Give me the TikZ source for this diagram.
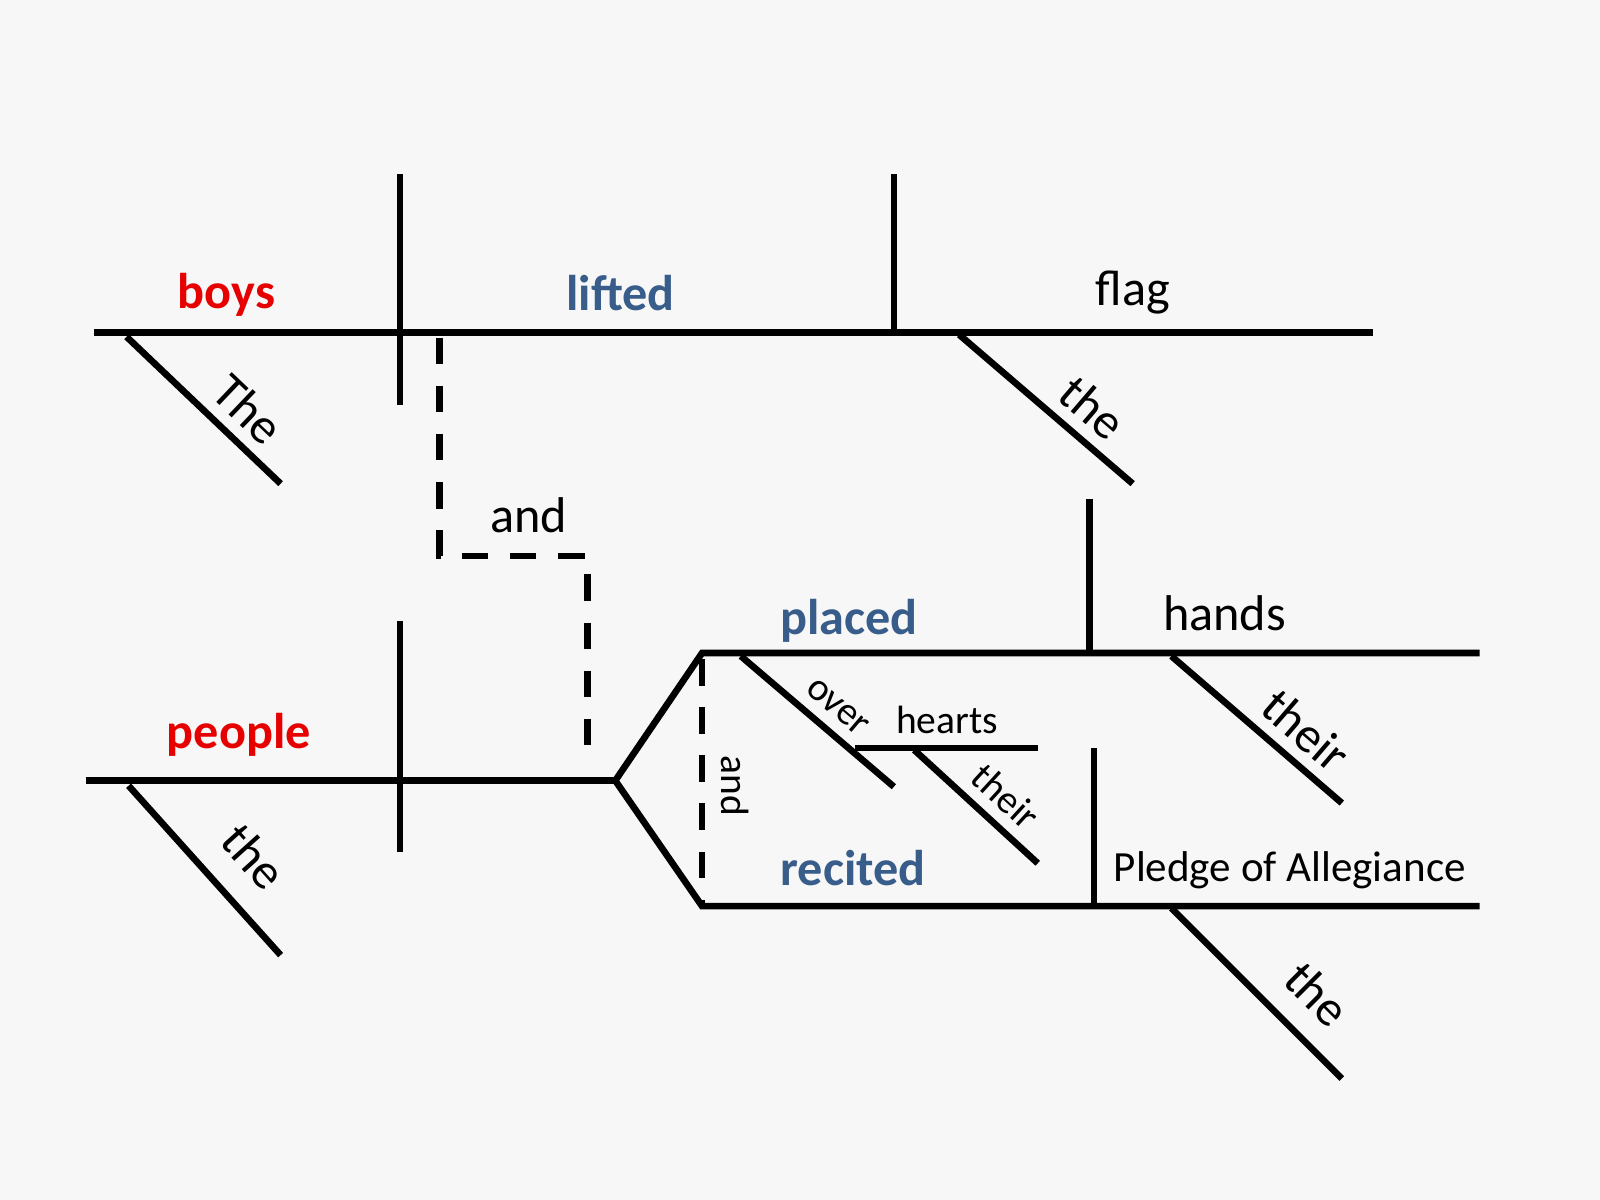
\documentclass[tikz,border=0pt]{standalone}
\usepackage{fontspec}
\setmainfont{Carlito}
\usetikzlibrary{positioning}
\usepackage{xcolor}
\definecolor{subjred}{HTML}{E60000}
\definecolor{verbblue}{HTML}{385D8A}
\definecolor{paper}{HTML}{F7F7F7}

\begin{document}
\begin{tikzpicture}[
x=0.01cm, y=-0.01cm,
line width=1.85pt,
every node/.style={font=\fontsize{14}{16}\selectfont, inner sep=2pt},
subj/.style={text=subjred, font=\bfseries\fontsize{14}{16}\selectfont},
verb/.style={text=verbblue, font=\bfseries\fontsize{14}{16}\selectfont},
small/.style={font=\fontsize{11}{13}\selectfont},
conj/.style={dash pattern=on 7.4pt off 6pt},
mod/.style={sloped, above, inner sep=3pt},
]
\fill[paper] (0,0) rectangle (1568,1176);
\useasboundingbox (0,0) rectangle (1568,1176);

% first clause
\coordinate (tl) at (92,326);
\coordinate (tr) at (1346,326);
\coordinate (d1t) at (392,171);
\coordinate (d1b) at (392,397);
\coordinate (d2t) at (876,171);
\coordinate (d2b) at (876,326);
\coordinate (m1a) at (124,330);
\coordinate (m1b) at (275,474);
\coordinate (m2a) at (940,328);
\coordinate (m2b) at (1110,474);

\node[subj] (boys) at (222,289) {boys};
\node[verb] (lifted) at (608,287) {lifted};
\node (flag) at (1110,287) {flag};

% Lines
\draw (tl) -- (tr);
\draw (d1t) -- (d1b);
\draw (d2t) -- (d2b);
\draw (m1a) -- node[mod, pos=0.65] {The} (m1b);
\draw (m2a) -- node[mod, pos=0.65] {the} (m2b);

% joining and
\coordinate (c1a) at (431,331);
\coordinate (c1b) at (431,545);
\coordinate (c1c) at (576,545);
\coordinate (c1d) at (576,740);
\draw[conj] (c1a) -- (c1b) -- (c1c) -- (c1d);
\node (and1) at (518,505) {and};

% second clause
\coordinate (bl) at (84,765);
\coordinate (fork) at (603,765);
\coordinate (d3t) at (392,609);
\coordinate (d3b) at (392,835);
\coordinate (m3a) at (126,770);
\coordinate (m3b) at (275,936);
\coordinate (pa) at (688,640);
\coordinate (pb) at (1450,640);
\coordinate (ra) at (688,888);
\coordinate (rb) at (1450,888);
\coordinate (d4t) at (1068,489);
\coordinate (d4b) at (1068,640);
\coordinate (d5t) at (1072,733);
\coordinate (d5b) at (1072,888);
\coordinate (m4a) at (1148,643);
\coordinate (m4b) at (1315,787);
\coordinate (ova) at (726,643);
\coordinate (ovb) at (876,771);
\coordinate (ha) at (838,733);
\coordinate (hb) at (1017,733);
\coordinate (m5a) at (896,735);
\coordinate (m5b) at (1017,846);
\coordinate (m6a) at (1148,890);
\coordinate (m6b) at (1315,1057);
\coordinate (c2a) at (688,646);
\coordinate (c2b) at (688,888);

\node[subj] (people) at (234,720) {people};
\node[verb] (placed) at (832,608) {placed};
\node (hands) at (1200,601) {hands};
\node[verb] (recited) at (836,851) {recited};
\node[font=\fontsize{12}{14}\selectfont] (pledge) at (1264,853) {Pledge of Allegiance};
\node[small] (hearts) at (928,706) {hearts};
\node[small, rotate=-90] (and2) at (720,770) {and};

% Lines
\draw (bl) -- (fork);
\draw (pb) -- (pa) -- (fork) -- (ra) -- (rb);
\draw (d3t) -- (d3b);
\draw (d4t) -- (d4b);
\draw (d5t) -- (d5b);
\draw[conj] (c2a) -- (c2b);
\draw (m3a) -- node[mod, pos=0.6, inner sep=7pt] {the} (m3b);
\draw (m4a) -- node[mod, pos=0.67] {their} (m4b);
\draw (ova) -- node[mod, small, pos=0.53] {over} (ovb);
\draw (ha) -- (hb);
\draw (m5a) -- node[mod, small, pos=0.59] {their} (m5b);
\draw (m6a) -- node[mod, pos=0.68, inner sep=6pt] {the} (m6b);

\end{tikzpicture}
\end{document}
